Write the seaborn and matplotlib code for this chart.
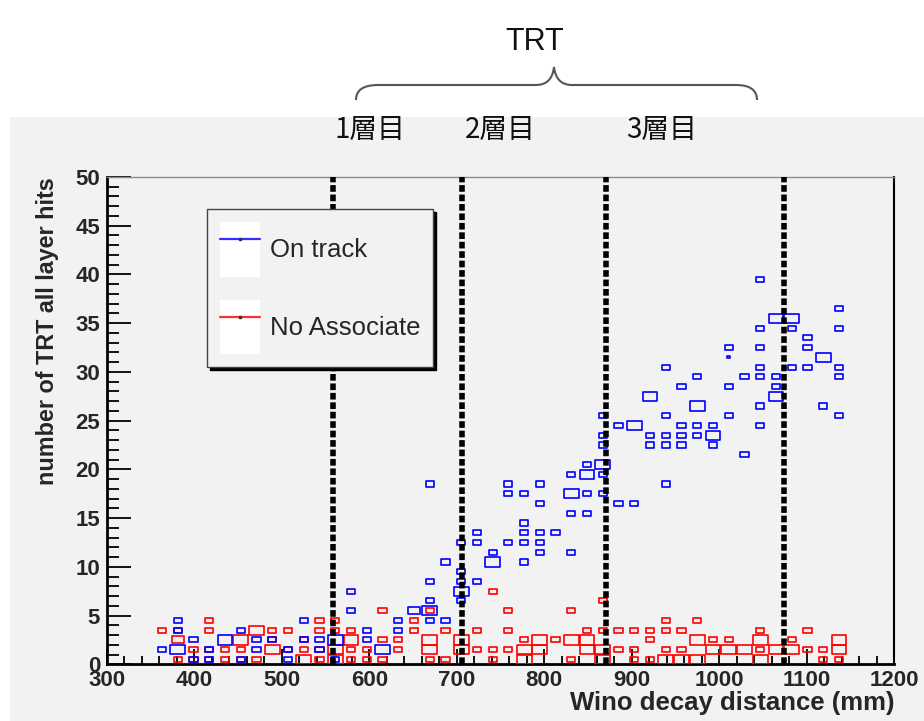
import numpy as np
import pandas as pd
import matplotlib
matplotlib.use("Agg")
import matplotlib.pyplot as plt
import seaborn as sns
from matplotlib.path import Path
from matplotlib.patches import PathPatch, Rectangle
from matplotlib.lines import Line2D

# ---------------------------------------------------------------------------
# Binned hit counts (18 mm x 1 hit bins): bin centre in mm, bin centre in hits,
# and the bin content that sets the box size.
# ---------------------------------------------------------------------------
on_track_mm = [
    363, 381, 381, 381, 399, 399, 417, 417, 435, 453, 453, 471, 471, 489,
    507, 507, 525, 525, 543, 543, 561, 561,
    579, 579, 597, 597, 615, 633, 633, 651,
    669, 669, 669, 669, 669, 687, 687, 705, 705, 705, 705, 705,
    723, 723, 723, 741, 741, 759, 759, 759,
    777, 777, 777, 777, 777, 795, 795, 795, 795, 795, 813,
    831, 831, 831, 831, 849, 849, 849, 849,
    867, 867, 867, 867, 867, 867,
    885, 885, 903, 903, 921, 921, 921,
    939, 939, 939, 939, 939, 957, 957, 957, 957,
    975, 975, 975, 975, 993, 993, 993,
    1011, 1011, 1011, 1011, 1029, 1029,
    1047, 1047, 1047, 1047, 1047, 1047, 1047,
    1065, 1065, 1065, 1065, 1083, 1083, 1083,
    1101, 1101, 1101, 1119, 1119,
    1137, 1137, 1137, 1137, 1137,
]
on_track_hits = [
    1.5, 4.5, 3.5, 1.5, 2.5, 0.5, 1.5, 0.5, 2.5, 3.5, 0.5, 2.5, 1.5, 2.5,
    1.5, 0.5, 4.5, 2.5, 2.5, 1.5, 2.5, 0.5,
    7.5, 5.5, 3.5, 2.5, 1.5, 4.5, 3.5, 5.5,
    18.5, 8.5, 6.5, 5.5, 4.5, 10.5, 4.5, 12.5, 9.5, 8.5, 7.5, 6.5,
    13.5, 12.5, 8.5, 11.5, 10.5, 18.5, 17.5, 12.5,
    17.5, 14.5, 13.5, 12.5, 10.5, 18.5, 16.5, 13.5, 12.5, 11.5, 13.5,
    19.5, 17.5, 15.5, 11.5, 20.5, 19.5, 17.5, 15.5,
    25.5, 23.5, 22.5, 20.5, 19.5, 17.5,
    24.5, 16.5, 24.5, 16.5, 27.5, 23.5, 22.5,
    30.5, 25.5, 23.5, 22.5, 18.5, 28.5, 24.5, 23.5, 22.5,
    29.5, 26.5, 24.5, 23.5, 24.5, 23.5, 22.5,
    32.5, 31.5, 28.5, 25.5, 29.5, 21.5,
    39.5, 34.5, 32.5, 30.5, 29.5, 26.5, 24.5,
    35.5, 29.5, 28.5, 27.5, 35.5, 34.5, 30.5,
    33.5, 32.5, 30.5, 31.5, 26.5,
    36.5, 34.5, 30.5, 29.5, 25.5,
]
on_track_n = [
    1, 1, 1, 2, 1, 1, 1, 1, 2, 1, 1, 1, 1, 1,
    1, 1, 1, 1, 1, 1, 2, 1,
    1, 1, 1, 1, 2, 1, 1, 1.5,
    1, 1, 1, 2, 1, 1, 1, 1, 1, 1, 2, 1,
    1, 1, 1, 1, 2, 1, 1, 1,
    1, 1, 1, 1, 1, 1, 1, 1, 1, 1, 1,
    1, 2, 1, 1, 1, 2, 1, 1,
    1, 1, 1, 2, 1, 1,
    1, 1, 2, 1, 2, 1, 1,
    1, 1, 1, 1, 1, 1, 1, 1, 1,
    1, 2, 1, 1, 1, 2, 1,
    1, 0.2, 1, 1, 1, 1,
    1, 1, 1, 1, 1, 1, 1,
    2, 1, 1, 2, 2, 1, 1,
    1, 1, 1, 2, 1,
    1, 1, 1, 1, 1,
]

no_assoc_mm = [
    363, 381, 381, 381, 399, 399, 417, 417, 417, 417, 435, 435,
    453, 453, 453, 471, 471, 489, 489, 489, 507, 507,
    525, 525, 525, 543, 543, 543, 543, 561, 561, 561, 561,
    579, 579, 579, 579, 597, 597, 615, 615, 615, 633, 633, 651, 651,
    669, 669, 669, 669, 687, 687, 705, 705, 723, 723,
    741, 741, 741, 759, 759, 759, 777, 777, 777, 795, 795, 813,
    831, 831, 831, 849, 849, 849, 867, 867, 867, 867,
    885, 885, 903, 903, 903, 921, 921, 921,
    939, 939, 939, 939, 957, 957, 957, 975, 975, 975,
    993, 993, 1011, 1011, 1029,
    1047, 1047, 1047, 1047, 1065, 1083, 1083, 1101, 1101,
    1119, 1119, 1137, 1137, 1137,
]
no_assoc_hits = [
    3.5, 3.5, 2.5, 0.5, 1.5, 0.5, 4.5, 3.5, 1.5, 0.5, 1.5, 0.5,
    2.5, 1.5, 0.5, 3.5, 0.5, 3.5, 2.5, 1.5, 3.5, 1.5,
    2.5, 1.5, 0.5, 4.5, 3.5, 1.5, 0.5, 4.5, 3.5, 1.5, 0.5,
    3.5, 2.5, 1.5, 0.5, 1.5, 0.5, 5.5, 2.5, 0.5, 2.5, 1.5, 4.5, 3.5,
    5.5, 2.5, 1.5, 0.5, 3.5, 0.5, 2.5, 1.5, 3.5, 1.5,
    7.5, 1.5, 0.5, 5.5, 3.5, 1.5, 2.5, 1.5, 0.5, 2.5, 1.5, 2.5,
    5.5, 2.5, 0.5, 3.5, 2.5, 1.5, 6.5, 3.5, 1.5, 0.5,
    3.5, 1.5, 3.5, 1.5, 0.5, 3.5, 2.5, 0.5,
    4.5, 3.5, 1.5, 0.5, 3.5, 1.5, 0.5, 4.5, 2.5, 0.5,
    2.5, 1.5, 2.5, 1.5, 1.5,
    3.5, 2.5, 1.5, 0.5, 1.5, 2.5, 1.5, 3.5, 1.5,
    1.5, 0.5, 2.5, 1.5, 0.5,
]
no_assoc_n = [
    1, 1, 1.5, 1, 1, 1, 1, 1, 1, 1, 1, 1,
    2, 1, 1, 2, 1, 1, 1, 2, 1, 1,
    1, 1, 2, 1, 1, 1, 1, 1, 1, 2, 2,
    1, 2, 1, 1, 1, 1, 1, 1, 1, 1, 1, 1, 1,
    1, 2, 2, 1, 1, 1, 2, 2, 1, 1,
    1, 1, 1, 1, 1, 1, 1, 2, 2, 2, 2, 1,
    1, 2, 1, 1, 2, 2, 1, 1, 2, 2,
    1, 1, 1, 1, 1, 1, 1, 1,
    1, 1, 1, 2, 1, 1, 2, 1, 2, 2,
    1, 2, 1, 2, 2,
    1, 2, 1, 2, 2, 1, 2, 1, 1,
    1, 1, 2, 2, 1,
]

# TRT layer boundaries (mm) and their labels
layer_bounds_mm = [558, 706, 871, 1074]
layer_labels = ["1層目", "2層目", "3層目"]
layer_label_px = [370, 500, 662]

x_ticks = list(range(300, 1201, 100))
y_ticks = list(range(0, 51, 5))
bin_width_mm = 18

# ---------------------------------------------------------------------------
sns.set_theme(style="ticks")
plt.rcParams["font.family"] = ["Liberation Sans", "DejaVu Sans"]

W, H = 924, 721
fig = plt.figure(figsize=(W / 100, H / 100), dpi=100, facecolor="white")


def fx(px):
    return px / W


def fy(py):
    return 1 - py / H


GRAY = "#f2f2f2"
fig.patches.append(Rectangle((fx(10), 0), 1 - fx(10), fy(117),
                             transform=fig.transFigure, facecolor=GRAY,
                             edgecolor="none", zorder=-5))

ax_l, ax_r, ax_t, ax_b = 107, 894, 177, 664.3
ax = fig.add_axes([fx(ax_l), fy(ax_b), fx(ax_r) - fx(ax_l), fy(ax_t) - fy(ax_b)])
ax.set_zorder(2)
ax.set_facecolor(GRAY)
ax.set_xlim(300, 1200)
ax.set_ylim(0, 50)

# rectangular box marker with the bin's aspect ratio
bin_px_w = ax.transData.transform((bin_width_mm, 0))[0] - ax.transData.transform((0, 0))[0]
bin_px_h = ax.transData.transform((0, 1))[1] - ax.transData.transform((0, 0))[1]
r = bin_px_h / bin_px_w
box = Path([(-1, -r), (1, -r), (1, r), (-1, r), (-1, -r)],
           [Path.MOVETO, Path.LINETO, Path.LINETO, Path.LINETO, Path.CLOSEPOLY])
bin_pt = bin_px_w * 72 / fig.dpi


def box_sizes(n):
    frac = 0.1 + 0.42 * np.asarray(n, dtype=float)
    return (frac * bin_pt) ** 2


red_df = pd.DataFrame({"distance": no_assoc_mm, "hits": no_assoc_hits, "n": no_assoc_n})
blue_df = pd.DataFrame({"distance": on_track_mm, "hits": on_track_hits, "n": on_track_n})

sns.scatterplot(data=red_df, x="distance", y="hits", marker=box,
                s=box_sizes(red_df["n"]), color="#ff0000", facecolor="none",
                edgecolor="#ff0000", linewidth=1.2, legend=False, ax=ax, zorder=3)
sns.scatterplot(data=blue_df, x="distance", y="hits", marker=box,
                s=box_sizes(blue_df["n"]), color="#0000ff", facecolor="none",
                edgecolor="#0000ff", linewidth=1.2, legend=False, ax=ax, zorder=3)

for xv in layer_bounds_mm:
    ax.axvline(xv, color="black", lw=4.0, ls=(0, (1.2, 0.5)),
               dash_capstyle="butt", zorder=4)

# axes styling
ax.set_xticks(x_ticks)
ax.set_xticks(np.arange(300, 1201, 20), minor=True)
ax.set_yticks(y_ticks)
ax.set_yticks(np.arange(0, 51, 1), minor=True)
ax.tick_params(which="both", direction="in", top=False, right=False,
               color="black", width=1.3)
ax.tick_params(axis="x", which="major", length=11, pad=4)
ax.tick_params(axis="x", which="minor", length=5.5)
ax.tick_params(axis="y", which="major", length=17, pad=5)
ax.tick_params(axis="y", which="minor", length=8.5)
ax.tick_params(axis="both", labelsize=16)
for lab in ax.get_xticklabels() + ax.get_yticklabels():
    lab.set_fontweight("bold")

for side, lw, col in [("left", 2.0, "black"), ("bottom", 2.0, "black"),
                      ("right", 1.5, "black"), ("top", 1.0, "#8a8a8a")]:
    ax.spines[side].set_visible(True)
    ax.spines[side].set_linewidth(lw)
    ax.spines[side].set_color(col)

ax.set_xlabel("Wino decay distance (mm)", loc="right", fontsize=18.5,
              fontweight="bold")
ax.xaxis.set_label_coords(1.0, -0.055)
ax.set_ylabel("number of TRT all layer hits", loc="top", fontsize=16.8,
              fontweight="bold")
ax.yaxis.set_label_coords(-0.061, 1.0)

# legend with white swatches behind the line samples
def handle(col):
    sw = Rectangle((0, 0), 1, 1, facecolor="white", edgecolor="none")
    ln = Line2D([], [], color=col, lw=1.6, marker="s", markersize=2,
                markerfacecolor="#333333", markeredgecolor="#333333")
    return (sw, ln)


leg = ax.legend([handle("#3030ff"), handle("#ff3030")],
                ["On track", "No Associate"],
                loc="upper left", bbox_to_anchor=(fx(207), fy(209)),
                bbox_transform=fig.transFigure, fontsize=18.5, numpoints=1,
                handlelength=1.55, handleheight=2.9, handletextpad=0.4,
                labelspacing=0.9, borderpad=0.5, borderaxespad=0,
                fancybox=False, framealpha=1,
                shadow={"color": "black", "alpha": 1})
leg.get_frame().set_facecolor(GRAY)
leg.get_frame().set_edgecolor("#444444")
leg.get_frame().set_linewidth(1.0)
leg.set_zorder(6)

# TRT annotation above the frame
for lab, px in zip(layer_labels, layer_label_px):
    fig.text(fx(px), fy(130), lab, ha="center", va="center", fontsize=20,
             family=["Noto Sans CJK JP", "DejaVu Sans"], color="#111111")
fig.text(fx(535), fy(42), "TRT", ha="center", va="center", fontsize=22,
         color="#111111")

pts = [(356, 100), (356, 85), (378, 85), (536, 85), (552, 85), (554, 67),
       (556, 85), (572, 85), (736, 85), (757, 85), (757, 100)]
codes = [Path.MOVETO, Path.CURVE3, Path.CURVE3, Path.LINETO, Path.CURVE3,
         Path.CURVE3, Path.CURVE3, Path.CURVE3, Path.LINETO, Path.CURVE3,
         Path.CURVE3]
brace = Path([(fx(x), fy(y)) for x, y in pts], codes)
fig.patches.append(PathPatch(brace, transform=fig.transFigure, facecolor="none",
                             edgecolor="#555555", lw=1.5))

fig.savefig("out.png", dpi=100, facecolor="white")
